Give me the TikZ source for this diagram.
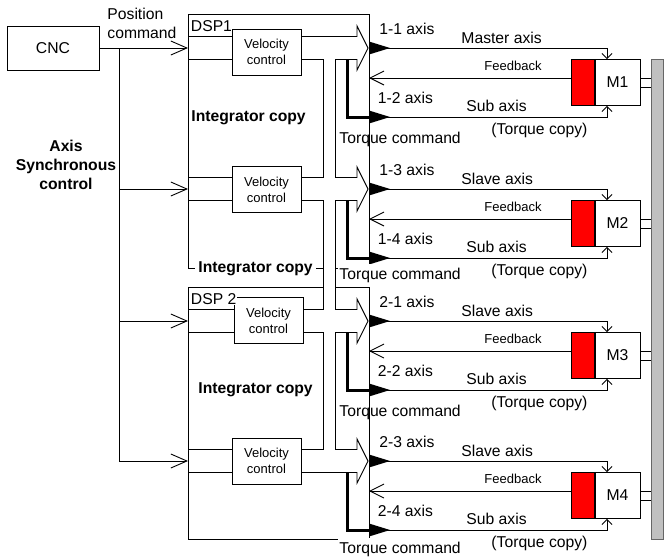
\documentclass[tikz,border=0pt]{standalone}
\usepackage{fontspec}
\setmainfont{Liberation Sans}
\usetikzlibrary{arrows.meta}

\definecolor{brakered}{RGB}{255,0,0}
\definecolor{railgray}{RGB}{192,192,192}

\tikzset{
  lbl/.style={font=\fontsize{15.7}{19}\selectfont, inner sep=0pt},
  lblsmall/.style={font=\fontsize{13}{16}\selectfont, inner sep=0pt},
  lblbold/.style={font=\fontsize{15.7}{19}\selectfont\bfseries, inner sep=0pt},
  block/.style={draw, fill=white, inner sep=0pt},
  openarrow/.style={-{Straight Barb[length=16pt,width=14pt]}},
  fbarrow/.style={-{Straight Barb[length=14pt,width=14pt]}},
  motorarrow/.style={-{Straight Barb[length=5pt,width=10pt]}},
  pipeout/.style={line width=24pt},
  pipein/.style={line width=22pt, white},
}

\begin{document}
\begin{tikzpicture}[x=1pt, y=-1pt, line width=0.9pt]
\useasboundingbox (0,0) rectangle (664,558);

% DSP boards
\node[draw, minimum width=181pt, minimum height=254pt, anchor=north west, inner sep=0pt] (dsp1) at (188,14) {};
\node[draw, minimum width=181pt, minimum height=252pt, anchor=north west, inner sep=0pt] (dsp2) at (188,287) {};

% CNC and position command bus
\node[block, lbl, minimum width=92pt, minimum height=44pt] (cnc) at (53,48) {CNC};
\node[lbl, align=left, anchor=north west] (poscmd) at (107,8) {Position\\command};
\node[lblbold, align=center, anchor=north] (sync) at (66,140) {Axis\\Synchronous\\control};

\foreach \i/\y in {1/48,2/189,3/321,4/461} {
  \coordinate (in\i) at (188,\y);
  \coordinate (hd\i) at (358,\y);
}
\coordinate (bus) at (119,48);
\coordinate (vt) at (329,48);
\coordinate (vb) at (329,461);
\draw[openarrow] (cnc) -- (in1);
\draw (bus) -- (bus |- in4);
\foreach \i in {2,3,4}
  \draw[openarrow] (bus |- in\i) -- (in\i);

% hollow integrator bus: outline first, then white core
\foreach \i in {1,...,4}
  \draw[pipeout] (in\i) -- (hd\i);
\draw[line width=13pt] (vt) -- (vb);
\foreach \y in {48,189,321,461}
  \filldraw[fill=white] (357,\y-22) -- (368,\y) -- (357,\y+22) -- cycle;
\foreach \i in {1,...,4}
  \draw[pipein] ([xshift=0.5pt]in\i) -- (hd\i);
\draw[line width=11pt, white] (vt) -- (vb);

% velocity loops
\foreach \i/\vx/\vy in {1/266.5/52,2/266.5/189.5,3/268.5/320.5,4/266.5/461}
  \node[block, lblsmall, align=center, minimum width=69pt, minimum height=46pt] (vc\i) at (\vx,\vy) {Velocity\\control};

\node[lbl, anchor=base west, fill=white, inner sep=0.5pt] (dsp1lbl) at (190,31.5) {DSP1};
\node[lbl, anchor=base west, fill=white, inner sep=0.5pt] (dsp2lbl) at (190,304) {DSP 2};

\node[lblbold, anchor=base west] (int1) at (191,121.5) {Integrator copy};
\node[lblbold, anchor=base west, fill=white, inner xsep=3pt, inner ysep=1pt] (int2) at (195,272.5) {Integrator copy};
\node[lblbold, anchor=base west] (int3) at (198,393.5) {Integrator copy};

% grey rail shared by the motor shafts
\node[draw=black!60, fill=railgray, minimum width=12pt, minimum height=480pt, inner sep=0pt] (rail) at (657,299) {};

\foreach \i/\y/\ta/\tb/\kind/\bg/\co in {1/48/1-1/1-2/Master/none/95, 2/189/1-3/1-4/Slave/white/90, 3/321/2-1/2-2/Slave/none/95, 4/461/2-3/2-4/Slave/white/92} {
  % motor with red encoder
  \node[block, lbl, minimum width=45pt, minimum height=46pt] (m\i) at (617.5,\y+34.5) {M\i};
  \node[draw, fill=brakered, minimum width=23pt, minimum height=46pt, inner sep=0pt, anchor=east] (r\i) at (m\i.west) {};
  \draw ([yshift=4.5pt]m\i.east) -- ++(11,0);
  \draw ([yshift=-4.5pt]m\i.east) -- ++(11,0);

  % axis lines and feedback
  \coordinate (tx\i) at (369,\y);
  \coordinate (fb\i) at (369,\y+30);
  \coordinate (sx\i) at (369,\y+69);
  \draw[motorarrow] (tx\i) -| ([xshift=-10.5pt]m\i.north);
  \draw[fbarrow] (r\i.west |- fb\i) -- (fb\i);
  \draw[motorarrow] (sx\i) -| ([xshift=-10.5pt]m\i.south);
  \draw[line width=3pt] (347,\y+12) |- (sx\i);
  \fill (tx\i) ++(0,-6.5) -- ++(21,6.5) -- ++(-21,6.5) -- cycle;
  \fill (sx\i) ++(0,-6.5) -- ++(21,6.5) -- ++(-21,6.5) -- cycle;

  \node[lbl, anchor=base west] (ta\i) at (379,\y-14) {\ta\ axis};
  \node[lbl, anchor=base west] (kd\i) at (461,\y-5) {\kind\ axis};
  \node[lblsmall, anchor=base west] (fl\i) at (484,\y+22) {Feedback};
  \node[lbl, anchor=base west] (tb\i) at (377.5,\y+55) {\tb\ axis};
  \node[lbl, anchor=base west] (sa\i) at (466,\y+63.5) {Sub axis};
  \node[lbl, anchor=base west] (tq\i) at (491,\y+86) {(Torque copy)};
  \node[lbl, anchor=base west, fill=\bg, inner xsep=1pt, inner ysep=4pt] (cmd\i) at (338,\y+\co) {Torque command};
}
\end{tikzpicture}
\end{document}
